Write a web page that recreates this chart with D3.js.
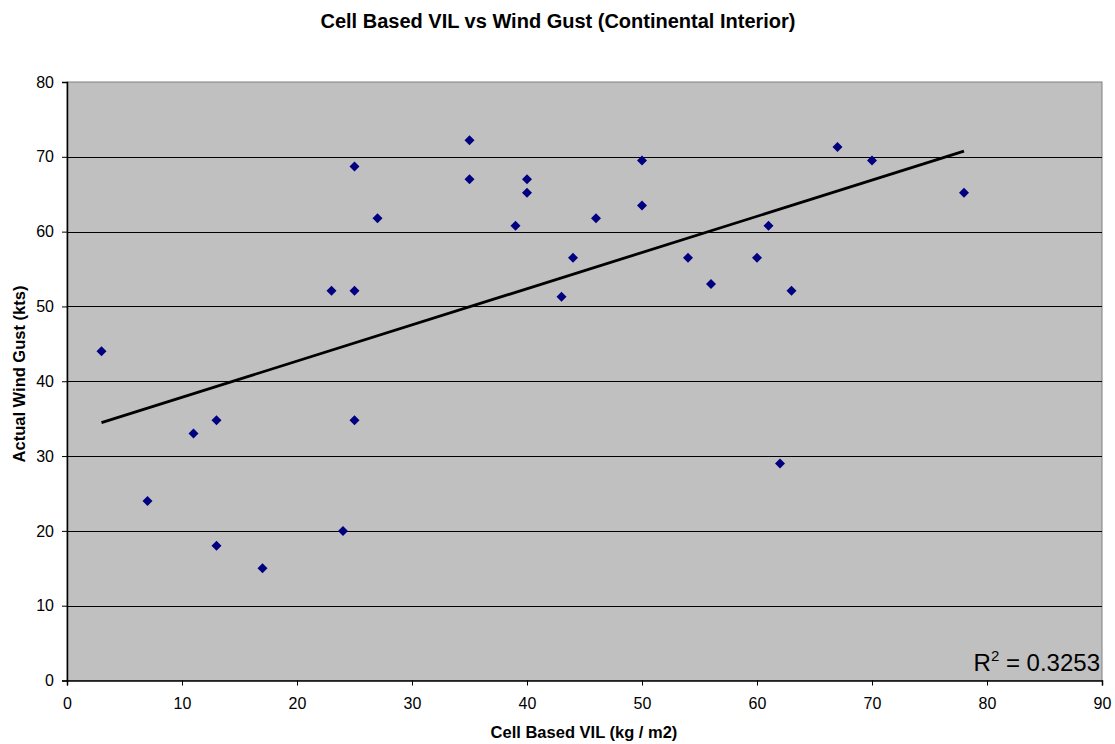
<!DOCTYPE html>
<html>
<head>
<meta charset="utf-8">
<script src="https://cdn.jsdelivr.net/npm/d3@7"></script>
<style>
  html, body { margin: 0; padding: 0; background: #fff; }
  svg { display: block; font-family: "Liberation Sans", Arial, sans-serif; }
</style>
</head>
<body>
<svg id="chart" width="1115" height="744"></svg>
<script>
// Cell based VIL (kg/m2) and the matching observed wind gust (kts)
const vil  = [3, 7, 11, 13, 13, 17, 23, 24, 25, 25, 25, 27, 35, 35, 39, 40,
              40, 43, 44, 46, 50, 50, 54, 56, 60, 61, 63, 62, 67, 70, 78];
const gust = [44, 24, 33, 34.8, 18, 15, 52.1, 20, 68.7, 52.1, 34.8, 61.8, 72.2, 67, 60.8, 67,
              65.2, 51.3, 56.5, 61.8, 69.5, 63.5, 56.5, 53, 56.5, 60.8, 52.1, 29, 71.3, 69.5, 65.2];
const xTicks = [0, 10, 20, 30, 40, 50, 60, 70, 80, 90];
const yTicks = [0, 10, 20, 30, 40, 50, 60, 70, 80];
const titleText = "Cell Based VIL vs Wind Gust (Continental Interior)";
const xTitle = "Cell Based VIL (kg / m2)";
const yTitle = "Actual Wind Gust (kts)";
const r2Label = "0.3253";

const svg = d3.select("#chart");
const m = { left: 67, top: 82, right: 1102, bottom: 680.5 };

const x = d3.scaleLinear().domain([0, 90]).range([m.left, m.right]);
const y = d3.scaleLinear().domain([0, 80]).range([m.bottom, m.top]);

// plot background
svg.append("rect")
  .attr("x", m.left).attr("y", m.top)
  .attr("width", m.right - m.left).attr("height", m.bottom - m.top)
  .attr("fill", "#c0c0c0")
  .attr("stroke", "#808080").attr("stroke-width", 1);

// horizontal gridlines
svg.append("g").selectAll("line")
  .data(yTicks.filter(d => d > 0 && d < 80))
  .join("line")
  .attr("x1", m.left).attr("x2", m.right)
  .attr("y1", d => Math.round(y(d)) + 0.5).attr("y2", d => Math.round(y(d)) + 0.5)
  .attr("stroke", "#000").attr("stroke-width", 1);

// axes
const yAxis = svg.append("g")
  .attr("transform", `translate(${m.left},0)`)
  .call(d3.axisLeft(y).tickValues(yTicks).tickSize(5).tickPadding(8).tickFormat(d3.format("d")));
const xAxis = svg.append("g")
  .attr("transform", `translate(0,${m.bottom})`)
  .call(d3.axisBottom(x).tickValues(xTicks).tickSize(5).tickPadding(12).tickFormat(d3.format("d")));
[xAxis, yAxis].forEach(a => {
  a.select(".domain").attr("stroke", "#000").attr("stroke-width", 1.5);
  a.selectAll(".tick line").attr("stroke", "#000");
  a.selectAll(".tick text")
    .attr("font-family", "Liberation Sans, Arial, sans-serif")
    .attr("font-size", 16).attr("fill", "#000");
});

// least squares trend line computed from the data
const n = vil.length;
const mx = d3.mean(vil), my = d3.mean(gust);
let sxy = 0, sxx = 0;
for (let i = 0; i < n; i++) { sxy += (vil[i] - mx) * (gust[i] - my); sxx += (vil[i] - mx) ** 2; }
const slope = sxy / sxx, intercept = my - slope * mx;
const [xmin, xmax] = d3.extent(vil);
svg.append("line")
  .attr("x1", x(xmin)).attr("y1", y(intercept + slope * xmin))
  .attr("x2", x(xmax)).attr("y2", y(intercept + slope * xmax))
  .attr("stroke", "#000").attr("stroke-width", 2.8);

// diamond markers
const diamond = "M0,-5L5,0L0,5L-5,0Z";
svg.append("g").selectAll("path")
  .data(vil.map((v, i) => [v, gust[i]]))
  .join("path")
  .attr("d", diamond)
  .attr("transform", d => `translate(${x(d[0])},${y(d[1])})`)
  .attr("fill", "#000080");

// R squared annotation
const r2 = svg.append("text")
  .attr("x", 1100).attr("y", 671)
  .attr("text-anchor", "end")
  .attr("font-size", 24).attr("fill", "#000");
r2.append("tspan").text("R");
r2.append("tspan").attr("font-size", 15).attr("dy", -10).text("2");
r2.append("tspan").attr("dy", 10).text(" = " + r2Label);

// titles
svg.append("text")
  .attr("x", 558).attr("y", 28).attr("text-anchor", "middle")
  .attr("font-size", 20).attr("font-weight", "bold").text(titleText);
svg.append("text")
  .attr("x", 584).attr("y", 738).attr("text-anchor", "middle")
  .attr("font-size", 16.5).attr("font-weight", "bold").text(xTitle);
svg.append("text")
  .attr("transform", "translate(25,374) rotate(-90)")
  .attr("text-anchor", "middle")
  .attr("font-size", 16.5).attr("font-weight", "bold").text(yTitle);
</script>
</body>
</html>
